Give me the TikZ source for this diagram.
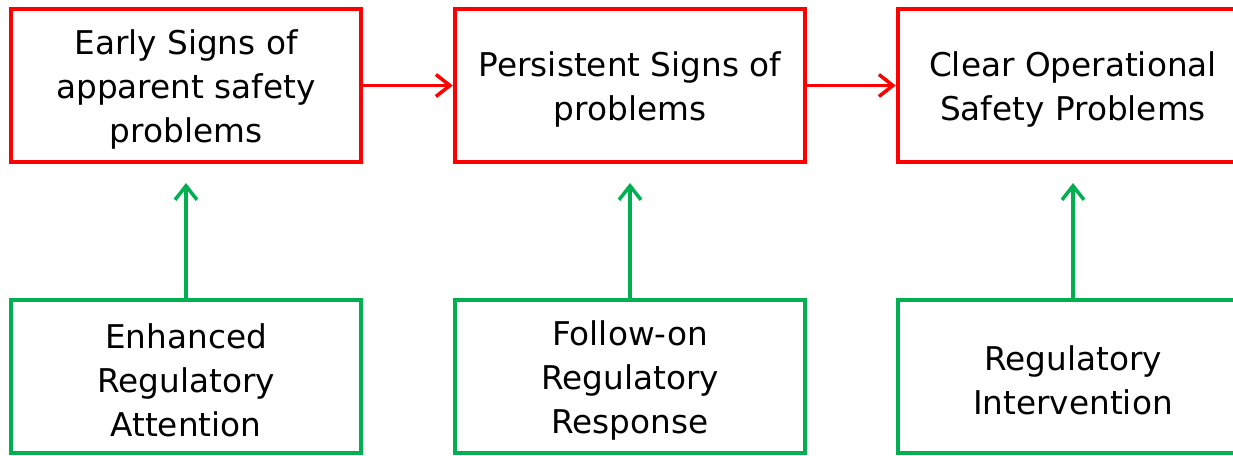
\documentclass[tikz,border=0pt]{standalone}
\usepackage{fontspec}
\setmainfont{DejaVu Sans}
\usetikzlibrary{arrows.meta}
\definecolor{actgreen}{HTML}{00B050}

\begin{document}
\begin{tikzpicture}[x=1pt,y=-1pt]
        \tikzset{words/.style = {align=center,inner sep=0pt,yshift=-4pt,font=\fontsize{32.7}{44}\selectfont}}
        \tikzset{sign/.style = {shape=rectangle,draw=red,line width=4.5pt,minimum width=350pt,minimum height=153pt,inner sep=0pt}}
        \tikzset{action/.style = {sign,draw=actgreen}}
        \tikzset{edge/.style = {draw=red,line width=3.5pt,-{Straight Barb[length=14pt,width=22pt]}}}
        \tikzset{lift/.style = {edge,draw=actgreen}}

        \useasboundingbox (0,0) rectangle (1233,455);

        \node[sign, label={[words]center:{Early Signs of\\apparent safety\\problems}}] (s1) at (186, 85.5) {};
        \node[sign, label={[words]center:{Persistent Signs of\\problems}}] (s2) at (630, 85.5) {};
        \node[sign, label={[words]center:{Clear Operational\\Safety Problems}}] (s3) at (1073, 85.5) {};

        \node[action, label={[words]center:{Enhanced\\Regulatory\\Attention}}] (a1) at (186, 376.5) {};
        \node[action, label={[words]center:{Follow-on\\Regulatory\\Response}}] (a2) at (630, 376.5) {};
        \node[action, label={[words]center:{Regulatory\\Intervention}}] (a3) at (1073, 376.5) {};

        \coordinate (t1) at (186, 183);
        \coordinate (t2) at (630, 183);
        \coordinate (t3) at (1073, 183);

        \draw[edge] (s1) -- (s2);
        \draw[edge] (s2) -- (s3);
        \draw[lift] (a1) -- (t1);
        \draw[lift] (a2) -- (t2);
        \draw[lift] (a3) -- (t3);
      \end{tikzpicture}
\end{document}
